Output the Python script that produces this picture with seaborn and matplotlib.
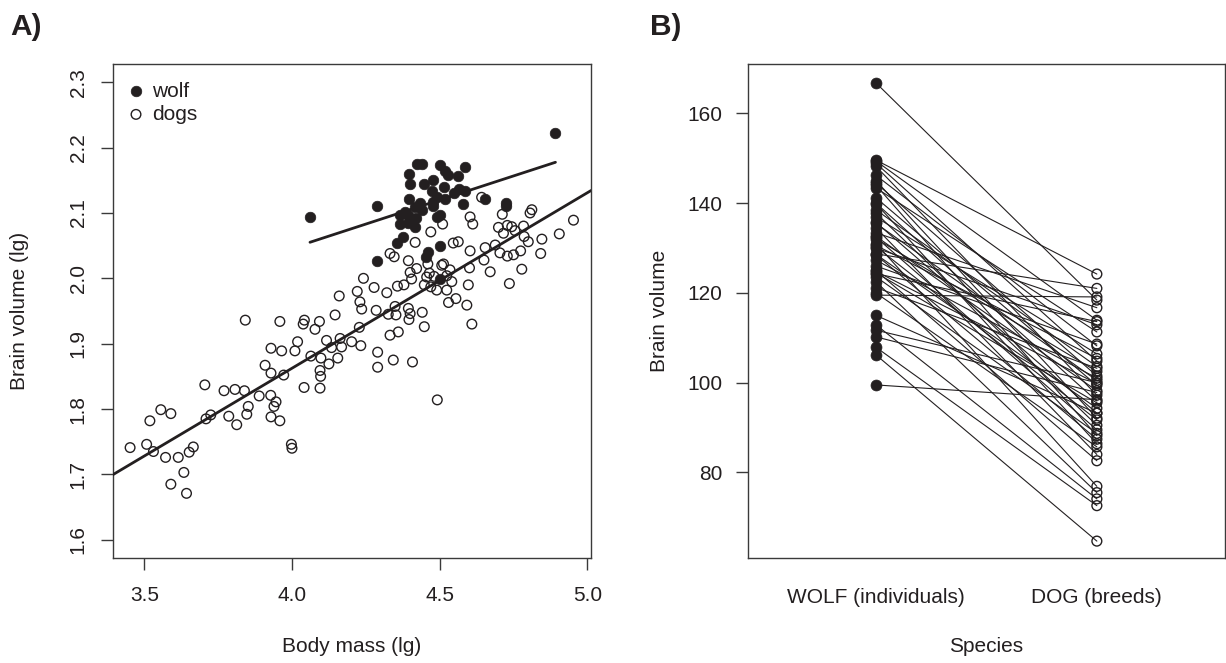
import numpy as np
import pandas as pd
import seaborn as sns
import matplotlib.pyplot as plt

# Panel A: log body mass / log brain volume
wolf_mass = [4.061, 4.287, 4.287, 4.422, 4.439, 4.397, 4.400, 4.501, 4.518, 4.529,
             4.586, 4.563, 4.447, 4.477, 4.515, 4.473, 4.490, 4.518, 4.566, 4.586,
             4.397, 4.433, 4.415, 4.440, 4.479, 4.580, 4.654, 4.725, 4.725, 4.366,
             4.394, 4.420, 4.366, 4.416, 4.501, 4.490, 4.354, 4.377, 4.501, 4.462,
             4.454, 4.501, 4.892, 4.382, 4.547, 4.479, 4.394]
wolf_brain = [2.094, 2.110, 2.027, 2.175, 2.175, 2.160, 2.145, 2.173, 2.165, 2.158,
              2.171, 2.157, 2.145, 2.150, 2.139, 2.133, 2.125, 2.122, 2.136, 2.133,
              2.121, 2.115, 2.109, 2.105, 2.110, 2.114, 2.122, 2.116, 2.110, 2.097,
              2.097, 2.092, 2.083, 2.079, 2.097, 2.094, 2.054, 2.063, 2.050, 2.041,
              2.033, 1.999, 2.223, 2.102, 2.130, 2.117, 2.084]

dog_mass = [3.452, 3.508, 3.531, 3.519, 3.556, 3.590, 3.572, 3.615, 3.634, 3.590,
            3.643, 3.652, 3.666, 3.705, 3.709, 3.725, 3.770, 3.786, 3.807, 3.813,
            3.839, 3.852, 3.847, 3.889, 3.842, 3.909, 3.929, 3.929, 3.965, 3.972,
            3.928, 3.946, 3.939, 3.929, 3.959, 3.998, 4.000, 3.959, 4.010, 4.019,
            4.042, 4.038, 4.041, 4.064, 4.078, 4.093, 4.098, 4.095, 4.097, 4.095,
            4.117, 4.125, 4.134, 4.146, 4.155, 4.163, 4.160, 4.168, 4.202, 4.233,
            4.228, 4.221, 4.230, 4.236, 4.242, 4.278, 4.285, 4.290, 4.290, 4.321,
            4.326, 4.332, 4.346, 4.332, 4.343, 4.349, 4.357, 4.360, 4.352, 4.379,
            4.394, 4.396, 4.400, 4.408, 4.400, 4.394, 4.405, 4.422, 4.441, 4.448,
            4.470, 4.417, 4.448, 4.456, 4.460, 4.465, 4.470, 4.481, 4.490, 4.492,
            4.507, 4.510, 4.513, 4.524, 4.524, 4.530, 4.535, 4.541, 4.555, 4.546,
            4.563, 4.603, 4.612, 4.603, 4.601, 4.597, 4.592, 4.609, 4.642, 4.654,
            4.650, 4.671, 4.688, 4.699, 4.704, 4.712, 4.716, 4.729, 4.736, 4.729,
            4.744, 4.750, 4.755, 4.778, 4.774, 4.784, 4.786, 4.800, 4.806, 4.812,
            4.842, 4.846, 4.905, 4.953]
dog_brain = [1.741, 1.746, 1.735, 1.782, 1.799, 1.793, 1.726, 1.726, 1.703, 1.685,
             1.671, 1.734, 1.742, 1.837, 1.785, 1.791, 1.828, 1.789, 1.830, 1.776,
             1.828, 1.804, 1.792, 1.820, 1.936, 1.867, 1.855, 1.893, 1.889, 1.852,
             1.821, 1.811, 1.804, 1.788, 1.782, 1.746, 1.740, 1.934, 1.889, 1.903,
             1.936, 1.930, 1.833, 1.881, 1.922, 1.934, 1.878, 1.859, 1.850, 1.832,
             1.905, 1.869, 1.894, 1.944, 1.878, 1.908, 1.973, 1.895, 1.903, 1.897,
             1.925, 1.980, 1.964, 1.953, 2.000, 1.986, 1.951, 1.887, 1.864, 1.978,
             1.945, 2.038, 2.033, 1.913, 1.875, 1.957, 1.988, 1.918, 1.944, 1.990,
             1.954, 1.937, 1.946, 1.872, 2.009, 2.027, 1.999, 2.015, 1.948, 1.926,
             2.071, 2.055, 1.990, 2.002, 2.022, 2.008, 1.987, 2.003, 1.982, 1.814,
             2.020, 2.083, 2.022, 2.004, 1.982, 1.963, 2.013, 1.995, 1.969, 2.054,
             2.056, 2.094, 2.083, 2.042, 2.016, 1.990, 1.959, 1.930, 2.124, 2.047,
             2.028, 2.010, 2.051, 2.078, 2.039, 2.098, 2.069, 2.081, 1.992, 2.034,
             2.079, 2.036, 2.073, 2.014, 2.042, 2.080, 2.064, 2.056, 2.100, 2.105,
             2.038, 2.060, 2.068, 2.089]

# fitted lines (intercept, slope)
dog_fit = (0.788, 0.2686)
wolf_fit = (1.457, 0.1473)

# Panel B: paired brain volumes
wolf_vol = [166.8, 149.6, 149.4, 148.9, 148.2, 146.2, 145.0, 144.5, 144.0, 143.4,
            141.2, 140.0, 139.9, 138.5, 137.8, 136.9, 135.7, 135.5, 134.5, 133.4,
            132.6, 132.4, 132.1, 131.0, 130.6, 130.3, 130.0, 128.7, 128.6, 128.5,
            127.3, 126.0, 125.0, 124.8, 124.5, 124.3, 123.6, 122.5, 121.2, 120.0,
            119.5, 115.0, 112.9, 111.7, 110.2, 107.9, 106.2, 99.5]
dog_vol = [118.4, 124.2, 113.9, 104.8, 97.2, 108.2, 92.1, 101.5, 88.2, 111.3,
           99.4, 95.9, 86.4, 103.6, 90.5, 106.4, 93.2, 100.5, 84.0, 116.7,
           98.2, 89.5, 102.5, 76.9, 105.4, 91.7, 112.9, 121.0, 94.3, 87.4,
           101.0, 108.6, 82.6, 99.8, 95.5, 113.6, 88.7, 75.5, 103.2, 85.7,
           119.1, 93.2, 74.1, 100.0, 97.8, 72.6, 64.7, 96.2]
species_labels = ["WOLF (individuals)", "DOG (breeds)"]

ink = "#231f20"
frame = "#3a3a3a"
fs = 15

sns.set_theme(style="white")
plt.rcParams["font.family"] = ["Liberation Sans", "DejaVu Sans"]
plt.rcParams["text.color"] = ink
plt.rcParams["axes.labelcolor"] = ink

fig = plt.figure(figsize=(12.26, 6.63), dpi=100)
fig.patch.set_facecolor("white")
axA = fig.add_axes([0.0919, 0.1588, 0.3902, 0.7447])
axB = fig.add_axes([0.6099, 0.1588, 0.3893, 0.7447])

for ax in (axA, axB):
    for sp in ax.spines.values():
        sp.set_color(frame)
        sp.set_linewidth(1.0)
    ax.tick_params(bottom=True, left=True, colors=frame, labelcolor=ink,
                   labelsize=fs, length=8.6, width=1.0, direction="out")

# ---------- A ----------
dogs_df = pd.DataFrame({"mass": dog_mass, "brain": dog_brain})
wolf_df = pd.DataFrame({"mass": wolf_mass, "brain": wolf_brain})

sns.scatterplot(data=dogs_df, x="mass", y="brain", ax=axA, s=48, marker="o",
                facecolor="none", edgecolor=ink, linewidth=1.0, label="dogs", zorder=3)
sns.scatterplot(data=wolf_df, x="mass", y="brain", ax=axA, s=58, marker="o",
                color=ink, edgecolor=ink, linewidth=0.5, label="wolf", zorder=4)

axA.axline((0, dog_fit[0]), slope=dog_fit[1], color=ink, lw=2.0, zorder=5)
wx = np.array([min(wolf_mass), max(wolf_mass)])
axA.plot(wx, wolf_fit[0] + wolf_fit[1] * wx, color=ink, lw=2.0, zorder=5)

axA.set_xlim(3.393, 5.0125)
axA.set_ylim(1.5725, 2.328)
axA.set_xticks([3.5, 4.0, 4.5, 5.0])
axA.set_xticklabels(["3.5", "4.0", "4.5", "5.0"])
axA.set_yticks([1.6, 1.7, 1.8, 1.9, 2.0, 2.1, 2.2, 2.3])
axA.set_yticklabels(["1.6", "1.7", "1.8", "1.9", "2.0", "2.1", "2.2", "2.3"])
axA.tick_params(axis="x", pad=11.5)
axA.tick_params(axis="y", pad=9.5, labelrotation=90)
for t in axA.get_yticklabels():
    t.set_va("center")

axA.set_xlabel("Body mass (lg)", fontsize=fs)
axA.set_ylabel("Brain volume (lg)", fontsize=fs)
axA.xaxis.label.set_va("center")
axA.yaxis.label.set_va("center")
axA.xaxis.set_label_coords(0.5, -0.179)
axA.yaxis.set_label_coords(-0.194, 0.5)

h, l = axA.get_legend_handles_labels()
order = [l.index("wolf"), l.index("dogs")]
axA.legend([h[i] for i in order], [l[i] for i in order], loc="upper left",
           frameon=False, fontsize=fs, handletextpad=0.25, handlelength=1.0,
           labelspacing=0.2, borderaxespad=0.45, borderpad=0.4,
           bbox_to_anchor=(-0.01, 1.0))

# ---------- B ----------
n = len(wolf_vol)
pairs = pd.DataFrame({
    "pair": list(range(n)) * 2,
    "pos": [1] * n + [2] * n,
    "volume": wolf_vol + dog_vol,
})
sns.lineplot(data=pairs, x="pos", y="volume", units="pair", estimator=None,
             color=ink, lw=0.8, ax=axB, zorder=2)
sns.scatterplot(x=[1] * n, y=wolf_vol, ax=axB, s=62, color=ink, edgecolor=ink,
                linewidth=0.5, zorder=4)
sns.scatterplot(x=[2] * n, y=dog_vol, ax=axB, s=50, facecolor="none",
                edgecolor=ink, linewidth=1.0, zorder=4)

axB.set_xlim(0.42, 2.58)
axB.set_ylim(61, 171)
axB.set_xticks([1, 2])
axB.set_xticklabels(species_labels)
axB.set_yticks([80, 100, 120, 140, 160])
axB.set_yticklabels(["80", "100", "120", "140", "160"])
axB.tick_params(axis="x", bottom=False, length=0, pad=22)
axB.tick_params(axis="y", pad=9.5)
axB.set_xlabel("Species", fontsize=fs)
axB.set_ylabel("Brain volume", fontsize=fs)
axB.xaxis.label.set_va("center")
axB.yaxis.label.set_va("center")
axB.xaxis.set_label_coords(0.5, -0.179)
axB.yaxis.set_label_coords(-0.184, 0.5)

fig.text(10 / 1226, 1 - 35 / 663, "A)", fontsize=21.5, fontweight="bold",
         va="baseline", ha="left", color=ink)
fig.text(650 / 1226, 1 - 35 / 663, "B)", fontsize=21.5, fontweight="bold",
         va="baseline", ha="left", color=ink)

fig.savefig("out.png", dpi=100)
